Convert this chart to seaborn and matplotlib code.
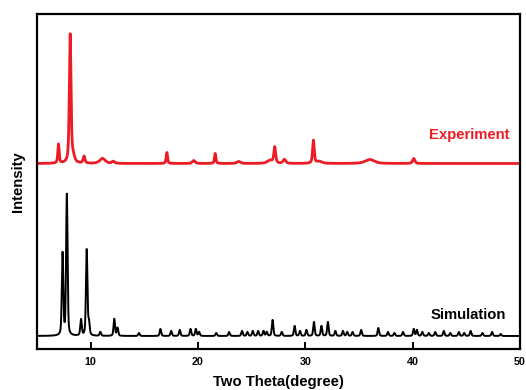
import numpy as np
import pandas as pd
import matplotlib
matplotlib.use("Agg")
import matplotlib.pyplot as plt
import seaborn as sns

# Peak lists (2-theta position, peak height, FWHM) for each pattern
sim_pos = [7.38, 7.78, 9.10, 9.63, 9.84, 10.9, 12.2, 12.5, 14.5, 16.5, 17.5, 18.3,
           19.3, 19.8, 20.1, 21.7, 22.9, 24.1, 24.6, 25.1, 25.6, 26.1, 26.4, 26.95,
           27.8, 29.0, 29.5, 30.1, 30.8, 31.5, 32.1, 32.8, 33.5, 33.9, 34.4, 35.2,
           36.8, 37.7, 38.3, 39.1, 40.1, 40.4, 40.9, 41.5, 42.1, 42.9, 43.5, 44.3,
           44.8, 45.4, 46.5, 47.4, 48.2]
sim_height = [82, 141, 16, 86, 12, 4, 17, 8, 3, 7, 5, 6,
              7, 7, 4, 3, 4, 5, 4, 5, 5, 5, 4, 16,
              4, 10, 5, 6, 14, 10, 14, 5, 5, 4, 4, 6,
              8, 4, 3, 4, 7, 6, 4, 3, 4, 5, 3, 4,
              3, 5, 3, 4, 2]
sim_fwhm = 0.16
sim_base = 13.0

exp_pos = [7.0, 8.09, 8.35, 9.38, 11.1, 12.1, 17.1, 19.6, 21.6, 23.8, 26.7,
           27.15, 28.05, 30.75, 31.3, 36.0, 40.1]
exp_height = [19, 128, 6, 7, 5, 2, 11, 3, 10, 2, 3,
              16, 4, 23, 2, 4, 5]
exp_width = [0.15, 0.18, 0.35, 0.2, 0.6, 0.3, 0.15, 0.3, 0.15, 0.4, 0.6,
             0.2, 0.3, 0.18, 0.6, 1.0, 0.25]
exp_base = 185.5

x_ticks = [10, 20, 30, 40, 50]


def pseudo_voigt(x, center, height, fwhm, eta=0.5):
    d = (x - center) / (fwhm / 2.0)
    lor = 1.0 / (1.0 + d ** 2)
    gau = np.exp(-np.log(2.0) * d ** 2)
    return height * (eta * lor + (1 - eta) * gau)


two_theta = np.linspace(5, 50, 4501)
sim_curve = np.full_like(two_theta, sim_base)
for p, h in zip(sim_pos, sim_height):
    sim_curve += pseudo_voigt(two_theta, p, h, sim_fwhm, eta=0.4)
exp_curve = np.full_like(two_theta, exp_base)
for p, h, w in zip(exp_pos, exp_height, exp_width):
    exp_curve += pseudo_voigt(two_theta, p, h, w, eta=0.6)

df = pd.DataFrame({"two_theta": np.concatenate([two_theta, two_theta]),
                   "intensity": np.concatenate([sim_curve, exp_curve]),
                   "pattern": ["Simulation"] * len(two_theta) + ["Experiment"] * len(two_theta)})

sns.set_style("ticks")
plt.rcParams["font.family"] = ["Liberation Sans", "DejaVu Sans"]
plt.rcParams["font.weight"] = "bold"
plt.rcParams["text.color"] = "black"
plt.rcParams["axes.labelcolor"] = "black"
plt.rcParams["xtick.color"] = "black"
plt.rcParams["xtick.labelcolor"] = "black"

red = "#ec1c24"
fig = plt.figure(figsize=(5.26, 3.90), dpi=100)
ax = fig.add_axes([37 / 526, 1 - 349 / 390, (520 - 37) / 526, (349 - 14) / 390])

sns.lineplot(data=df[df.pattern == "Simulation"], x="two_theta", y="intensity",
             color="black", lw=1.4, estimator=None, ax=ax)
sns.lineplot(data=df[df.pattern == "Experiment"], x="two_theta", y="intensity",
             color=red, lw=2.0, estimator=None, ax=ax)

ax.set_xlim(5, 50)
ax.set_ylim(0, 335)
ax.set_xticks(x_ticks)
ax.set_xticklabels([str(t) for t in x_ticks], fontsize=7.7, fontweight="bold",
                   color="black")
ax.set_yticks([])
ax.tick_params(axis="x", direction="in", length=5, width=1.4, pad=6, colors="black")
for s in ax.spines.values():
    s.set_linewidth(1.6)
    s.set_color("black")
    s.set_visible(True)

ax.set_xlabel("Two Theta(degree)", fontsize=10.7, fontweight="bold", labelpad=5.5,
              color="black")
ax.set_ylabel("Intensity", fontsize=10.7, fontweight="bold", labelpad=9,
              color="black")

ax.text(45.3, 214, "Experiment", color=red, fontsize=10.7, fontweight="bold",
        ha="center", va="center")
ax.text(45.2, 34, "Simulation", color="black", fontsize=10.7, fontweight="bold",
        ha="center", va="center")

fig.savefig("out.png", dpi=100)
